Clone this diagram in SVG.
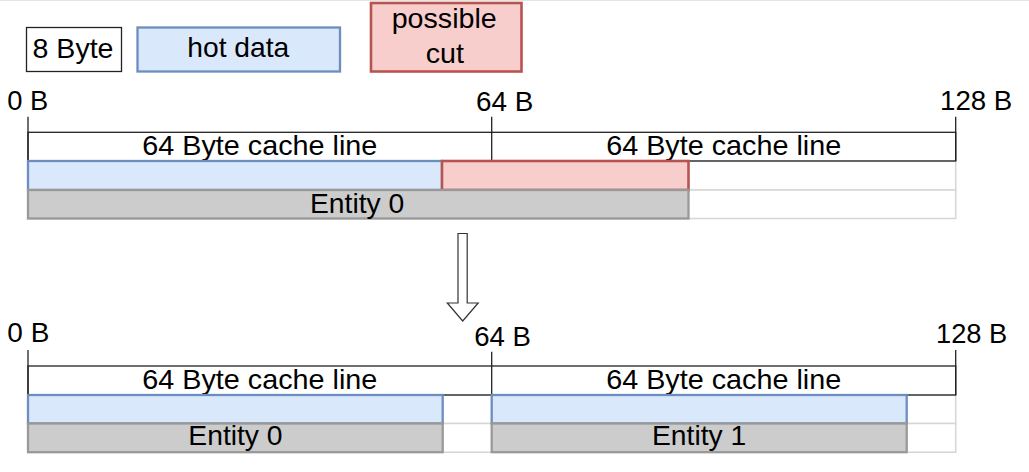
<svg xmlns="http://www.w3.org/2000/svg" width="1029" height="472" viewBox="0 0 1029 472">
<style>
text{font-family:"Liberation Sans",Arial,sans-serif;font-size:28px;fill:#000}
.blue{fill:#DAE8FC;stroke:#6C8EBF;stroke-width:2.3}
.pink{fill:#F8CECC;stroke:#B85450;stroke-width:2.6}
.grey{fill:#CCCCCC;stroke:#999999;stroke-width:2.3}
.slot{fill:#FFFFFF;stroke:#D6D6D6;stroke-width:1.5}
.line{fill:none;stroke:#222;stroke-width:1.3}
</style>
<rect x="0" y="0" width="1029" height="472" fill="#FFFFFF"/>
<line x1="0" y1="0.5" x2="1029" y2="0.5" stroke="#E4E4E4" stroke-width="1"/>
<g id="legend">
<g id="legend-8byte"><rect x="26.5" y="27.5" width="95" height="44" fill="#FFFFFF" stroke="#222" stroke-width="1.3"/><text x="32.5" y="58.3" textLength="81" lengthAdjust="spacingAndGlyphs">8 Byte</text></g>
<g id="legend-hot"><rect class="blue" x="137.5" y="27.5" width="202.5" height="44"/><text x="187.3" y="57.3" textLength="102" lengthAdjust="spacingAndGlyphs">hot data</text></g>
<g id="legend-cut"><rect class="pink" x="371" y="3" width="150.5" height="68.5"/><text x="391.7" y="28.3" textLength="105" lengthAdjust="spacingAndGlyphs">possible</text><text x="425.7" y="62.7" textLength="38.3" lengthAdjust="spacingAndGlyphs">cut</text></g>
</g>
<g id="before">
<text x="7.3" y="110" textLength="41" lengthAdjust="spacingAndGlyphs">0 B</text>
<text x="476" y="111" textLength="57.3" lengthAdjust="spacingAndGlyphs">64 B</text>
<text x="940" y="110" textLength="72.3" lengthAdjust="spacingAndGlyphs">128 B</text>
<rect class="slot" x="28" y="161" width="927.7" height="29"/>
<rect class="slot" x="28" y="190" width="927.7" height="28.5"/>
<rect class="line" x="28" y="132.3" width="927.7" height="28.7"/>
<g class="line"><line x1="28" y1="116.7" x2="28" y2="161"/><line x1="491.7" y1="116.7" x2="491.7" y2="161"/><line x1="955.7" y1="116.7" x2="955.7" y2="161"/></g>
<text x="142.3" y="155.3" textLength="235" lengthAdjust="spacingAndGlyphs">64 Byte cache line</text>
<text x="606.2" y="155.3" textLength="235" lengthAdjust="spacingAndGlyphs">64 Byte cache line</text>
<g id="before-entity0">
<rect class="blue" x="28" y="161" width="414" height="29"/>
<rect class="pink" x="442" y="161" width="246.5" height="29"/>
<rect class="grey" x="28" y="190" width="660.5" height="28.5"/>
<text x="310" y="212.7" textLength="94.3" lengthAdjust="spacingAndGlyphs">Entity 0</text>
</g>
</g>
<g id="connectors">
<polygon points="458,233.5 467.2,233.5 467.2,303 478.2,303 462.7,321 447.3,303 458,303" fill="#FFFFFF" stroke="#333" stroke-width="1.2" stroke-linejoin="miter"/>
</g>
<g id="after">
<text x="7.3" y="341.7" textLength="42" lengthAdjust="spacingAndGlyphs">0 B</text>
<text x="474.3" y="345.7" textLength="56.7" lengthAdjust="spacingAndGlyphs">64 B</text>
<text x="936" y="343.3" textLength="71.3" lengthAdjust="spacingAndGlyphs">128 B</text>
<rect class="slot" x="28" y="395" width="927.7" height="28.5"/>
<rect class="slot" x="28" y="423.5" width="927.7" height="28.7"/>
<rect class="line" x="28" y="366" width="927.7" height="29"/>
<g class="line"><line x1="28" y1="350" x2="28" y2="395"/><line x1="491.7" y1="351.7" x2="491.7" y2="395"/><line x1="955.7" y1="350" x2="955.7" y2="395"/></g>
<text x="142.3" y="389" textLength="235" lengthAdjust="spacingAndGlyphs">64 Byte cache line</text>
<text x="606.2" y="389" textLength="235" lengthAdjust="spacingAndGlyphs">64 Byte cache line</text>
<g id="after-entity0">
<rect class="blue" x="28" y="395" width="414.7" height="28.5"/>
<rect class="grey" x="28" y="423.5" width="414.7" height="28.7"/>
<text x="188.3" y="445" textLength="94.3" lengthAdjust="spacingAndGlyphs">Entity 0</text>
</g>
<g id="after-entity1">
<rect class="blue" x="491.7" y="395" width="415" height="28.5"/>
<rect class="grey" x="491.7" y="423.5" width="415" height="28.7"/>
<text x="652" y="445" textLength="94.3" lengthAdjust="spacingAndGlyphs">Entity 1</text>
</g>
</g>
</svg>
